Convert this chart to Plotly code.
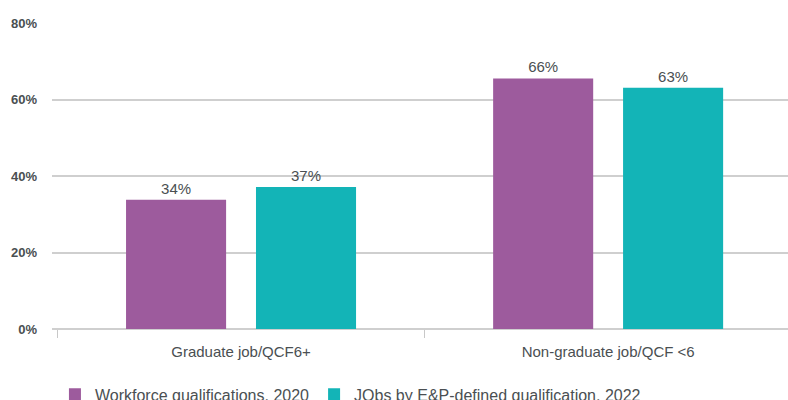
import plotly.graph_objects as go

categories = ["Graduate job/QCF6+", "Non-graduate job/QCF <6"]
series_names = ["Workforce qualifications, 2020", "JObs by E&P-defined qualification, 2022"]
workforce_2020 = [33.8, 65.5]
jobs_2022 = [37.1, 63.1]
y_ticks = [0, 20, 40, 60, 80]
y_tick_labels = ["0%", "20%", "40%", "60%", "80%"]

colors = ["#9D5B9D", "#13B4B7"]
text_color = "#4a4f52"
font_family = "Liberation Sans, Arial, sans-serif"

fig = go.Figure()
for name, vals, col in zip(series_names, [workforce_2020, jobs_2022], colors):
    fig.add_trace(go.Bar(
        x=categories, y=vals, name=name, marker=dict(color=col, line=dict(width=0)),
        texttemplate="%{y:.0f}%", textposition="outside", cliponaxis=False,
        textfont=dict(size=15, color=text_color, family=font_family),
        hoverinfo="skip",
    ))

fig.update_layout(
    width=788, height=400, autosize=False,
    margin=dict(l=52, r=0, t=23, b=70.5, autoexpand=False),
    paper_bgcolor="white", plot_bgcolor="white",
    barmode="group", bargap=0.292, bargroupgap=0.23,
    font=dict(family=font_family, color=text_color),
    showlegend=True,
    legend=dict(orientation="h", x=0.004, xanchor="left", y=-0.2137, yanchor="middle",
                font=dict(size=16, color=text_color, family=font_family),
                itemsizing="constant", tracegroupgap=0),
    xaxis=dict(type="category", range=[-0.515, 1.49], tickson="boundaries",
               ticks="outside", ticklen=8, tickcolor="#c8c8c8", tickwidth=1,
               showline=False, showgrid=False, ticklabelstandoff=12,
               tickfont=dict(size=15, color=text_color, family=font_family)),
    yaxis=dict(range=[0, 80], tickvals=y_ticks, ticktext=y_tick_labels,
               showgrid=True, gridcolor="#cfcfcf", gridwidth=2, zeroline=True,
               zerolinecolor="#cfcfcf", zerolinewidth=2,
               ticklabelstandoff=14,
               tickfont=dict(size=13, color=text_color, family=font_family, weight="bold")),
)

fig.write_html(
    "out.html",
    config={"responsive": False, "displayModeBar": False},
    post_script="document.body.style.margin='0';document.documentElement.style.overflow='hidden';document.body.style.overflow='hidden';",
)
